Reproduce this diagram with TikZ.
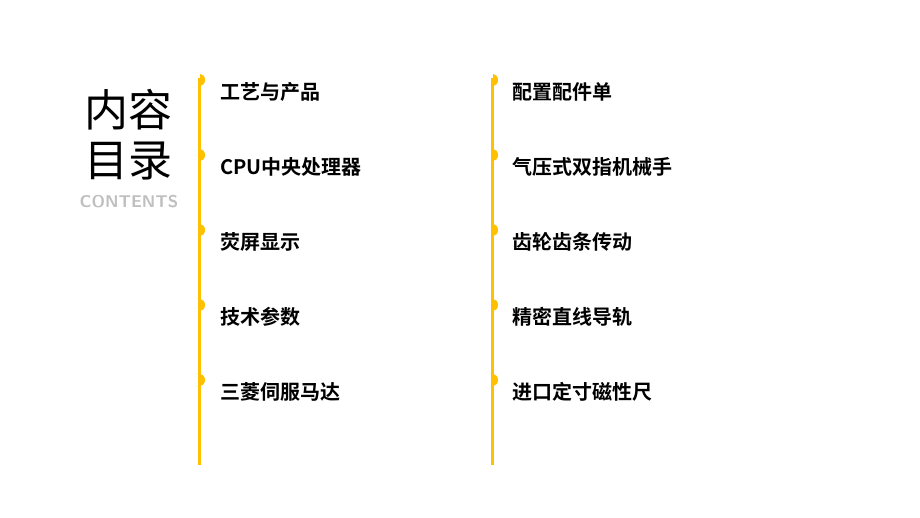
\documentclass[tikz,border=0pt]{standalone}
\usepackage{fontspec}
\newfontfamily\cjk{Noto Sans CJK SC}
\newfontfamily\cjkb{Noto Sans CJK SC Bold}
\usetikzlibrary{positioning}
\definecolor{goldline}{RGB}{255,192,0}
\tikzset{
  item/.style = {anchor=west, font=\cjkb\fontsize{20}{20}\selectfont, inner sep=0pt},
  rail/.style = {goldline, line width=3pt},
  knob/.style = {fill=goldline, draw=none}
}
\begin{document}
\begin{tikzpicture}[x=1pt, y=-1pt]
\useasboundingbox (0,0) rectangle (920,518);
% title block
\node (title) [font=\cjk\fontsize{44}{50}\selectfont, align=center, inner sep=0pt] at (128,135) {内容\\目录};
\node (sub) [font=\sffamily\bfseries\fontsize{17}{17}\selectfont, text=black!25, inner sep=0pt] at (129,202) {CONTENTS};
% rails
\draw[rail] (199,78) -- (199,465);
\draw[rail] (492,78) -- (492,465);
% left column
\foreach \t [count=\i] in {工艺与产品,CPU中央处理器,荧屏显示,技术参数,三菱伺服马达}{
  \pgfmathsetmacro\yy{92+(\i-1)*75}
  \fill[knob] (200,\yy-6) arc[start angle=90,end angle=-90,x radius=5,y radius=6] -- cycle;
  \node (l\i) [item] at (220,\yy) {\t};
}
% right column
\foreach \t [count=\i] in {配置配件单,气压式双指机械手,齿轮齿条传动,精密直线导轨,进口定寸磁性尺}{
  \pgfmathsetmacro\yy{92+(\i-1)*75}
  \fill[knob] (493,\yy-6) arc[start angle=90,end angle=-90,x radius=5,y radius=6] -- cycle;
  \node (r\i) [item] at (512,\yy) {\t};
}
\end{tikzpicture}
\end{document}
